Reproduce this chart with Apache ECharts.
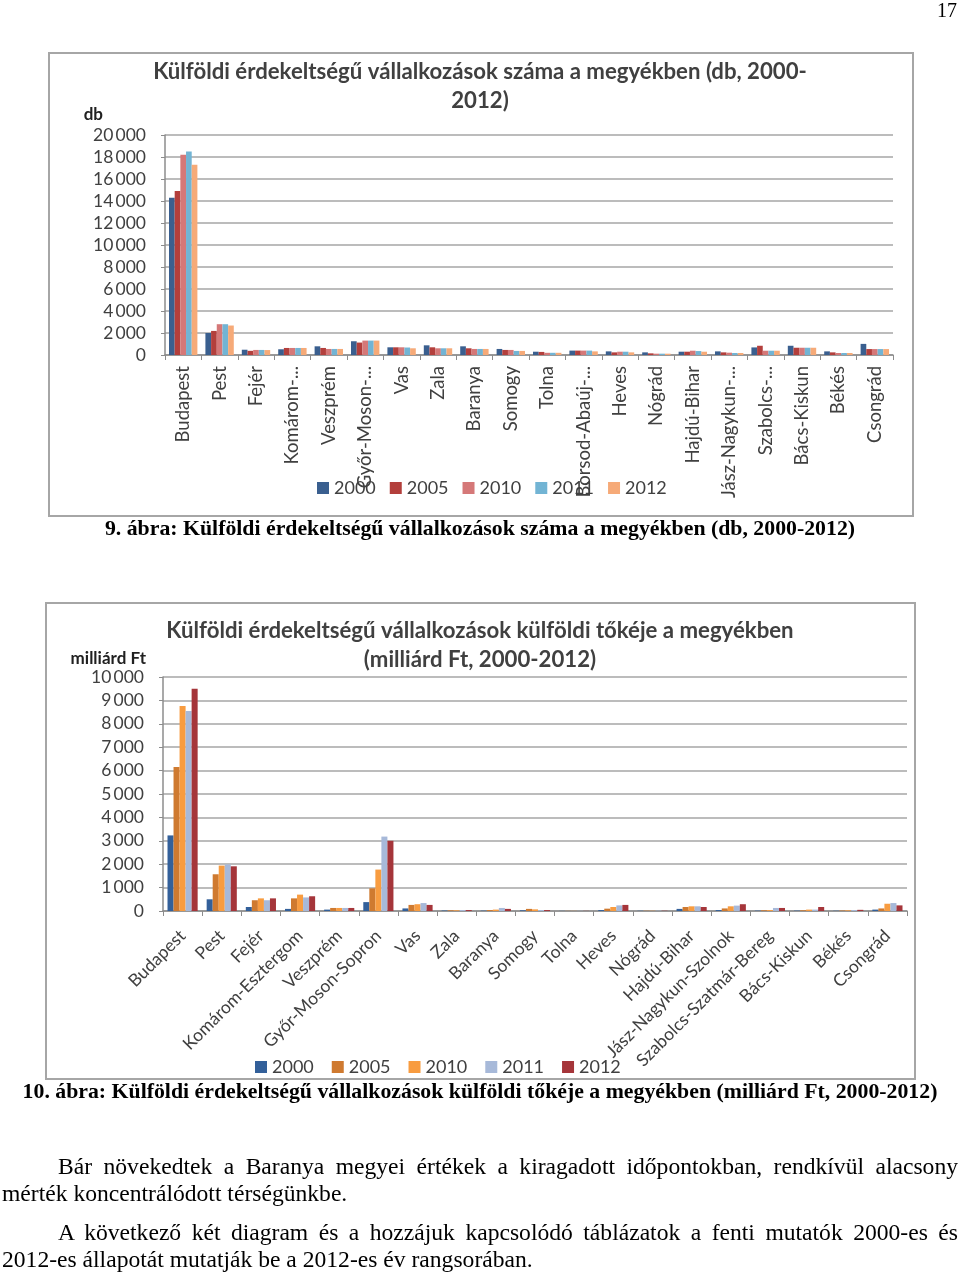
<!DOCTYPE html>
<html><head><meta charset="utf-8">
<script src="https://cdn.jsdelivr.net/npm/echarts@6/dist/echarts.min.js"></script>
<style>
html,body{margin:0;padding:0;background:#fff;}
#wrap{position:relative;width:960px;height:1276px;overflow:hidden;}
#chart{position:absolute;left:0;top:0;width:960px;height:1276px;}
.t{position:absolute;font-family:'Liberation Serif','Times New Roman',serif;color:#000;white-space:nowrap;}
.cap{font-weight:bold;font-size:21.8px;text-align:center;left:0;width:960px;}
.p{font-size:23.6px;}
.j{text-align:justify;text-align-last:justify;white-space:normal;}
</style></head>
<body><div id="wrap">
<div id="chart"></div>
<div class="t" style="right:3px;top:-1px;font-size:20px;">17</div>
<div class="t cap" style="top:516px;">9. ábra: Külföldi érdekeltségű vállalkozások száma a megyékben (db, 2000-2012)</div>
<div class="t cap" style="top:1079px;">10. ábra: Külföldi érdekeltségű vállalkozások külföldi tőkéje a megyékben (milliárd Ft, 2000-2012)</div>
<div class="t p j" style="left:58px;width:900px;top:1153px;">Bár növekedtek a Baranya megyei értékek a kiragadott időpontokban, rendkívül alacsony</div>
<div class="t p" style="left:2px;top:1180px;">mérték koncentrálódott térségünkbe.</div>
<div class="t p j" style="left:58px;width:900px;top:1219px;">A következő két diagram és a hozzájuk kapcsolódó táblázatok a fenti mutatók 2000-es és</div>
<div class="t p" style="left:2px;top:1246px;">2012-es állapotát mutatják be a 2012-es év rangsorában.</div>
</div>
<script>
// ---- data ----
const years = ['2000','2005','2010','2011','2012'];
const cats1 = ['Budapest','Pest','Fejér','Komárom-...','Veszprém','Győr-Moson-...','Vas','Zala','Baranya','Somogy','Tolna','Borsod-Abaúj-...','Heves','Nógrád','Hajdú-Bihar','Jász-Nagykun-...','Szabolcs-...','Bács-Kiskun','Békés','Csongrád'];
const db2000 = [14300, 2000, 480, 520, 790, 1250, 700, 880, 790, 550, 300, 400, 330, 240, 300, 330, 690, 840, 330, 1010];
const db2005 = [14900, 2190, 380, 640, 640, 1130, 700, 700, 610, 460, 280, 400, 240, 150, 300, 240, 840, 660, 240, 540];
const db2010 = [18200, 2800, 460, 640, 550, 1310, 700, 610, 550, 460, 200, 400, 300, 120, 390, 210, 390, 660, 180, 540];
const db2011 = [18500, 2800, 460, 640, 550, 1310, 680, 610, 550, 370, 200, 400, 300, 120, 360, 180, 390, 660, 180, 540];
const db2012 = [17300, 2680, 450, 640, 550, 1310, 610, 610, 550, 370, 200, 330, 240, 120, 300, 180, 390, 660, 180, 540];

const cats2 = ['Budapest','Pest','Fejér','Komárom-Esztergom','Veszprém','Győr-Moson-Sopron','Vas','Zala','Baranya','Somogy','Tolna','Heves','Nógrád','Hajdú-Bihar','Jász-Nagykun-Szolnok','Szabolcs-Szatmár-Bereg','Bács-Kiskun','Békés','Csongrád'];
const ft2000 = [3230, 500, 170, 90, 60, 380, 110, 20, 15, 30, 5, 40, 10, 90, 40, 15, 15, 10, 60];
const ft2005 = [6150, 1570, 460, 540, 130, 970, 260, 30, 40, 90, 5, 100, 10, 170, 110, 30, 30, 20, 110];
const ft2010 = [8760, 1940, 540, 700, 130, 1770, 290, 30, 60, 70, 5, 170, 10, 200, 200, 40, 60, 30, 310];
const ft2011 = [8550, 1990, 460, 580, 130, 3180, 340, 40, 130, 40, 5, 240, 10, 200, 230, 130, 60, 40, 340];
const ft2012 = [9500, 1910, 540, 630, 130, 3000, 260, 40, 90, 40, 5, 260, 10, 170, 290, 130, 170, 50, 240];

const title1 = 'Külföldi érdekeltségű vállalkozások száma a megyékben (db, 2000-\n2012)';
const title2 = 'Külföldi érdekeltségű vállalkozások külföldi tőkéje a megyékben\n(milliárd Ft, 2000-2012)';
const unit1 = 'db';
const unit2 = 'milliárd Ft';

const colors1 = ['#3a5f8f','#b33f3c','#d57878','#72b4d4','#f6aa78'];
const colors2 = ['#33609a','#cf7a30','#f89c40','#a7b9d9','#a5353a'];

const FONT = "'Lato',sans-serif";
const TXT = '#404040';
const fmt = v => String(v).replace(/\B(?=(\d{3})+(?!\d))/g, '\u2009');

const chart = echarts.init(document.getElementById('chart'), null, {renderer:'canvas'});
const d1 = [db2000, db2005, db2010, db2011, db2012];
const d2 = [ft2000, ft2005, ft2010, ft2011, ft2012];

const axisY = (gi, max, interval, name, pad, gap) => ({
  type:'value', gridIndex:gi, min:0, max:max, interval:interval,
  name:name, nameLocation:'end', nameGap:gap,
  nameTextStyle:{fontFamily:FONT, fontWeight:'bold', fontSize:17, color:'#202020', align:'right', padding:[0,pad,0,0]},
  axisLine:{show:true, lineStyle:{color:'#8c8c8c', width:1.5}},
  axisTick:{show:true, length:4, lineStyle:{color:'#8c8c8c'}},
  splitLine:{lineStyle:{color:'#a6a6a6', width:1.5}},
  axisLabel:{fontFamily:FONT, fontSize:17.5, color:TXT, margin:19, formatter:fmt}
});

const legendStyle = {fontFamily:FONT, fontSize:18, color:TXT};

const option = {
  animation:false,
  backgroundColor:'#fff',
  title:[
    {text:title1, left:'center', top:52, textStyle:{fontFamily:FONT, fontWeight:'bold', fontSize:22.2, color:TXT, lineHeight:29}},
    {text:title2, left:'center', top:611, textStyle:{fontFamily:FONT, fontWeight:'bold', fontSize:22.2, color:TXT, lineHeight:29}}
  ],
  legend:[
    {data:years.map(y=>({name:y, icon:'rect'})), top:474, left:312, itemWidth:12, itemHeight:12, itemGap:14, textStyle:legendStyle, selectedMode:false},
    {data:years.map(y=>({name:y+' ', icon:'rect'})), top:1053, left:250, itemWidth:12, itemHeight:12, itemGap:18, textStyle:legendStyle, selectedMode:false,
     formatter: n => n.trim()}
  ],
  grid:[
    {left:165, right:67, top:135, bottom:921, containLabel:false},
    {left:163, right:53, top:677, bottom:365, containLabel:false}
  ],
  xAxis:[
    {type:'category', gridIndex:0, data:cats1,
     axisLine:{lineStyle:{color:'#8c8c8c', width:1.5}},
     axisTick:{show:true, length:5, alignWithLabel:false, lineStyle:{color:'#8c8c8c'}},
     axisLabel:{rotate:90, interval:0, fontFamily:FONT, fontSize:18.5, color:TXT, margin:11}},
    {type:'category', gridIndex:1, data:cats2,
     axisLine:{lineStyle:{color:'#8c8c8c', width:1.5}},
     axisTick:{show:true, length:5, alignWithLabel:false, lineStyle:{color:'#8c8c8c'}},
     axisLabel:{rotate:45, interval:0, fontFamily:FONT, fontSize:17.5, color:TXT, margin:22}}
  ],
  yAxis:[
    axisY(0, 20000, 2000, unit1, 62, 12),
    axisY(1, 10000, 1000, unit2, 17, 10)
  ],
  series:[],
  graphic:[
    {type:'rect', shape:{x:49, y:53, width:864, height:463}, style:{fill:'none', stroke:'#a6a6a6', lineWidth:2}, z:-1},
    {type:'rect', shape:{x:46, y:603, width:869, height:476}, style:{fill:'none', stroke:'#a6a6a6', lineWidth:2}, z:-1}
  ]
};

years.forEach((y,i)=>{
  option.series.push({name:y, type:'bar', xAxisIndex:0, yAxisIndex:0, data:d1[i], barGap:'0%', barCategoryGap:'22%', itemStyle:{color:colors1[i]}});
});
years.forEach((y,i)=>{
  option.series.push({name:y+' ', type:'bar', xAxisIndex:1, yAxisIndex:1, data:d2[i], barGap:'0%', barCategoryGap:'23%', itemStyle:{color:colors2[i]}});
});
chart.setOption(option);
</script>
</body></html>
